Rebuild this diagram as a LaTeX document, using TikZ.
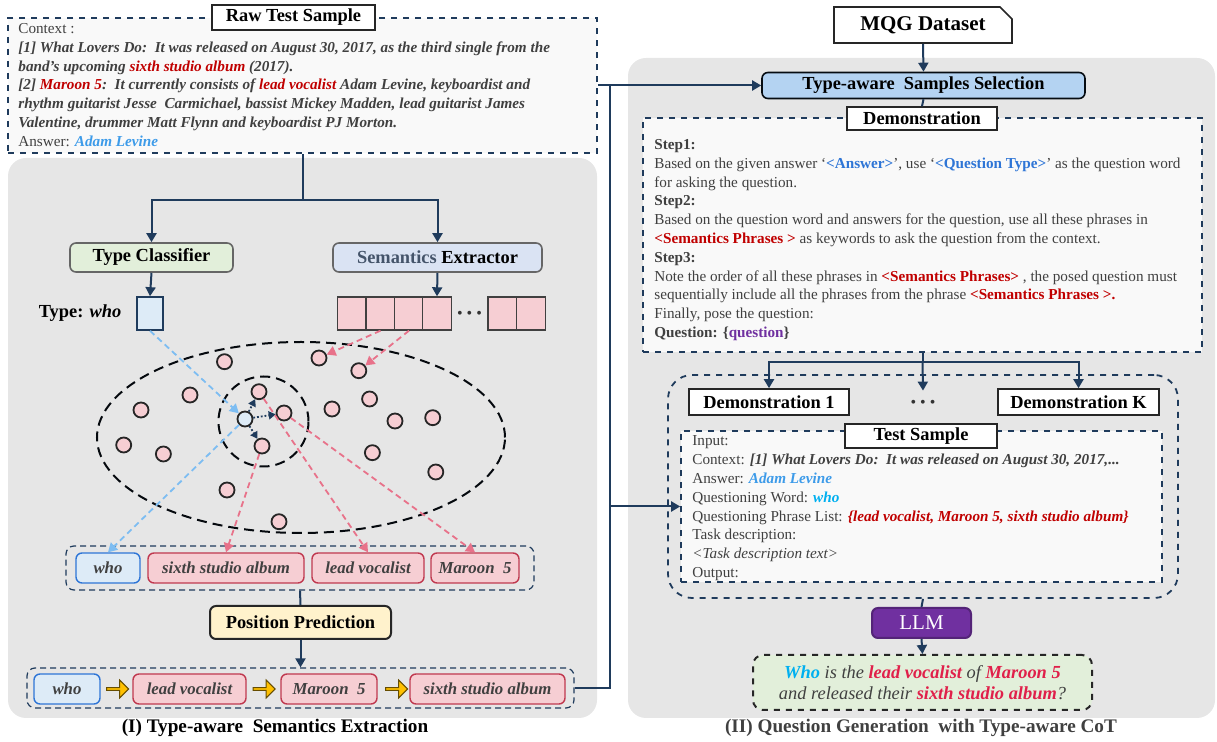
\documentclass[tikz,border=0pt]{standalone}
\usepackage{fontspec}
\setmainfont{Liberation Serif}
\usepackage{tikz}
\usetikzlibrary{positioning,arrows.meta,shapes.geometric,shapes.misc,shapes.arrows}

\definecolor{navy}{HTML}{1F3B5C}
\definecolor{panelgray}{HTML}{E6E6E6}
\definecolor{boxwhite}{HTML}{F9F9F9}
\definecolor{txtgray}{HTML}{404040}
\definecolor{redtxt}{HTML}{C00000}
\definecolor{ansblue}{HTML}{3D9BE9}
\definecolor{whocyan}{HTML}{00B0F0}
\definecolor{qpurple}{HTML}{7030A0}
\definecolor{greenfill}{HTML}{E2EFDA}
\definecolor{bluefill}{HTML}{DAE3F3}
\definecolor{lightblue}{HTML}{DDEBF7}
\definecolor{blueedge}{HTML}{2E75D6}
\definecolor{pinkfill}{HTML}{F6CED3}
\definecolor{pinkedge}{HTML}{C0394F}
\definecolor{pinkline}{HTML}{E8728A}
\definecolor{skyline}{HTML}{7DBDF2}
\definecolor{yellowfill}{HTML}{FFF2CC}
\definecolor{selfill}{HTML}{B4D3F2}
\definecolor{arrowyellow}{HTML}{FFC000}
\definecolor{crimson}{HTML}{E0204A}
\definecolor{semgray}{HTML}{44546A}
\definecolor{llmpurple}{HTML}{7030A0}

\newcommand\bodyfont{\fontsize{7.6}{9.4}\selectfont}
\newcommand\boxfont{\fontsize{9.2}{11}\selectfont\bfseries}
\newcommand\tagfont{\fontsize{8.4}{10}\selectfont\bfseries\itshape}
\newcommand\threedots{\textbullet\hspace{2pt}\textbullet\hspace{2pt}\textbullet}

\tikzset{
  arr/.style={-{Triangle[length=4.5pt,width=5pt]}, navy, line width=1pt},
  link/.style={navy, line width=1pt},
  title/.style={draw=black!85, fill=white, line width=0.8pt, font=\boxfont, inner sep=0pt},
  dashbox/.style={draw=navy, dashed, line width=0.8pt, fill=boxwhite, inner sep=0pt},
  group/.style={draw=navy, densely dashed, line width=0.6pt, rounded corners=4pt, inner sep=0pt},
  tagblue/.style={draw=blueedge, fill=lightblue, line width=0.7pt, rounded corners=3pt,
    minimum height=15pt, inner sep=0pt, font=\tagfont, text=txtgray},
  tagpink/.style={draw=pinkedge, fill=pinkfill, line width=0.7pt, rounded corners=3pt,
    minimum height=15pt, inner sep=0pt, font=\tagfont, text=txtgray},
  cell/.style={draw=black!75, fill=pinkfill, line width=0.7pt, minimum width=14.5pt,
    minimum height=16.5pt, inner sep=0pt},
  dot/.style={circle, draw=black!85, fill=pinkfill, line width=0.9pt, minimum size=7.5pt, inner sep=0pt},
  yarrow/.style={single arrow, draw=black!60!arrowyellow, fill=arrowyellow, line width=0.5pt,
    minimum height=11pt, minimum width=9pt, single arrow head extend=1.5pt, inner sep=0pt},
  pinkdash/.style={-{Triangle[length=4.5pt,width=5pt]}, pinkline, line width=0.9pt, dash pattern=on 3pt off 2pt},
  bluedash/.style={-{Triangle[length=4.5pt,width=5pt]}, skyline, line width=0.9pt, dash pattern=on 3pt off 2pt},
}

\begin{document}
\begin{tikzpicture}[x=0.5pt, y=-0.5pt]
  \useasboundingbox (0,0) rectangle (1217,742);

  % panels
  \fill[panelgray, rounded corners=9pt] (8,158) rectangle (597,718);
  \fill[panelgray, rounded corners=9pt] (628,58) rectangle (1215,718);

  % (I) raw sample
  \node[dashbox, minimum width=294.5pt, minimum height=67.5pt] (raw) at (302.5,85.5) {};
  \node[title, minimum width=81.5pt, minimum height=12.5pt] (rawtitle) at (293.5,17.5) {Raw Test Sample};
  \node[anchor=north west, align=left, inner sep=0pt, font=\bodyfont, text=txtgray] (rawtext) at (18,23)
    {Context :\\
     \textbf{\textit{[1] What Lovers Do:\ \ It was released on August 30, 2017, as the third single from the}}\\
     \textbf{\textit{band's upcoming \textcolor{redtxt}{sixth studio album} (2017).}}\\
     \textbf{\textit{[2] \textcolor{redtxt}{Maroon 5}:\ \ It currently consists of \textcolor{redtxt}{lead vocalist} Adam Levine, keyboardist and}}\\
     \textbf{\textit{rhythm guitarist Jesse\ \ Carmichael, bassist Mickey Madden, lead guitarist James}}\\
     \textbf{\textit{Valentine, drummer Matt Flynn and keyboardist PJ Morton.}}\\
     Answer: \textcolor{ansblue}{\textbf{\textit{Adam Levine}}}};

  \node[title, draw=black!60, fill=greenfill, rounded corners=3pt, minimum width=81.5pt, minimum height=14.5pt] (typecls) at (151.5,257.5) {Type Classifier};
  \node[title, draw=black!60, fill=bluefill, rounded corners=3pt, minimum width=104.5pt, minimum height=14.5pt] (semext) at (437.5,257.5) {\textcolor{semgray}{Semantics} Extractor};
  \coordinate (split) at (302.5,200);
  \draw[link] (raw.south) -- (split);
  \draw[arr] (split) -| (typecls.north);
  \draw[arr] (split) -| (semext.north);

  \node[draw=navy, fill=lightblue, line width=0.8pt, minimum width=13pt, minimum height=16.5pt, inner sep=0pt] (typebox) at (150,313.5) {};
  \node[font=\fontsize{9.2}{11}\selectfont, inner sep=0pt] (typelbl) at (80,313) {\textbf{Type:} \textbf{\textit{who}}};
  \draw[arr] (typecls.south) -- (typebox.north);

  \node[cell] (s1) at (352,313.5) {};
  \node[cell] (s2) at (380.5,313.5) {};
  \node[cell] (s3) at (409,313.5) {};
  \node[cell] (s4) at (437,313.5) {};
  \node[font=\fontsize{8}{9}\selectfont, text=black!80, inner sep=0pt] (sdots) at (469.5,315) {\threedots};
  \node[cell] (s5) at (502.5,313.5) {};
  \node[cell] (s6) at (531,313.5) {};
  \draw[arr] (semext.south) -- (s4.north);

  % semantic space
  \node[ellipse, draw=black!85!navy, line width=1pt, dash pattern=on 5pt off 3pt, minimum width=204pt, minimum height=95.5pt, inner sep=0pt] (space) at (301,437.5) {};
  \node[circle, draw=black!85!navy, line width=1pt, dash pattern=on 5pt off 3pt, minimum size=45pt, inner sep=0pt] (near) at (263.5,421.5) {};

  \foreach \x/\y in {224.5/361.7, 190/395, 141/410, 332/409, 369.6/399, 395/421, 432.7/417.7,
                     123.7/445, 163.4/454, 372.4/452.7, 435.8/472, 227/490, 279/521.7}
    \node[dot] at (\x,\y) {};
  \node[dot] (ca) at (319,358) {};
  \node[dot] (cb) at (358.8,370.7) {};
  \node[dot] (ct) at (259,391.7) {};
  \node[dot] (cr) at (284,413) {};
  \node[dot] (cd) at (262,446) {};
  \node[dot, fill=lightblue] (c0) at (245,419) {};

  \draw[pinkdash] (s2.south) -- (ca);
  \draw[pinkdash] (s3.south) -- (cb);
  \draw[bluedash] (typebox.south) -- (c0);
  \foreach \t in {ct,cr,cd}
    \draw[-{Triangle[length=3.5pt,width=4pt]}, navy, line width=0.9pt, densely dotted] (c0) -- (\t);

  % extracted phrases
  \node[group, minimum width=234pt, minimum height=22pt] (group1) at (300,568) {};
  \node[tagblue, minimum width=32pt] (who1) at (108,568) {who};
  \node[tagpink, minimum width=78pt] (sixth1) at (226,568) {sixth studio album};
  \node[tagpink, minimum width=56pt] (lead1) at (368,568) {lead vocalist};
  \node[tagpink, minimum width=44pt] (maroon1) at (475,568) {Maroon\ \ 5};

  \draw[bluedash] (c0) -- (who1.north);
  \draw[pinkdash] (cd) -- (sixth1.north);
  \draw[pinkdash] (ct) -- (lead1.north);
  \draw[pinkdash] (cr) -- (maroon1.north);

  \node[title, fill=yellowfill, rounded corners=3pt, line width=1pt, minimum width=90.5pt, minimum height=16.5pt] (posp) at (300.5,622.5) {Position Prediction};
  \draw[link] (group1.south) -- (posp.north);

  \node[group, minimum width=273.5pt, minimum height=20pt] (group2) at (300.5,688) {};
  \node[tagblue, minimum width=33pt] (who2) at (67,689) {who};
  \node[yarrow] (ya) at (117,689) {};
  \node[tagpink, minimum width=56.5pt] (lead2) at (189.5,689) {lead vocalist};
  \node[yarrow] (yb) at (263.5,689) {};
  \node[tagpink, minimum width=48pt] (maroon2) at (329,689) {Maroon\ \ 5};
  \node[yarrow] (yc) at (396,689) {};
  \node[tagpink, minimum width=77.5pt] (sixth2) at (487.5,689) {sixth studio album};
  \draw[arr] (posp.south) -- (group2.north);

  \node[font=\fontsize{9.6}{11}\selectfont\bfseries, inner sep=0pt] (cap1) at (275,728) {(I) Type-aware\ \ Semantics Extraction};

  % (II) question generation
  \node[title, chamfered rectangle, chamfered rectangle corners=north east, chamfered rectangle xsep=3pt,
        font=\fontsize{10.5}{12}\selectfont\bfseries, minimum width=89pt, minimum height=18pt] (mqg) at (923,25) {MQG Dataset};
  \node[title, fill=selfill, draw=black!80!navy, rounded corners=3pt, minimum width=161.5pt, minimum height=13pt] (sel) at (923.5,85.5) {Type-aware\ \ Samples Selection};
  \draw[arr] (mqg.south) -- (sel.north);
  \draw[arr] (raw.east) -- (sel.west);

  \node[dashbox, minimum width=279.5pt, minimum height=117pt] (demo) at (922.5,235) {};
  \node[title, minimum width=75pt, minimum height=11.5pt] (demotitle) at (922,118.5) {Demonstration};
  \draw[link] (sel.south) -- (demotitle.north);
  \node[anchor=north west, align=left, inner sep=0pt, font=\bodyfont, text=txtgray] (demotext) at (654,139)
    {\textbf{Step1:}\\
     Based on the given answer `\textcolor{blueedge}{\textbf{<Answer>}}', use `\textcolor{blueedge}{\textbf{<Question Type>}}' as the question word\\
     for asking the question.\\
     \textbf{Step2:}\\
     Based on the question word and answers\ for the question, use all these phrases\ in\\
     \textcolor{redtxt}{\textbf{<Semantics Phrases >}} as keywords\ to ask the question from the context.\\
     \textbf{Step3:}\\
     Note the order of all these phrases in \textcolor{redtxt}{\textbf{<Semantics Phrases>}} , the posed question must\\
     sequentially\ include all the phrases\ from the phrase \textcolor{redtxt}{\textbf{<Semantics Phrases >.}}\\
     Finally, pose the question:\\
     \textbf{Question: \{\textcolor{qpurple}{question}\}}};

  \node[draw=navy, dashed, line width=0.9pt, rounded corners=12pt, minimum width=255pt, minimum height=111.5pt, inner sep=0pt] (shots) at (923,486.5) {};
  \node[title, minimum width=80pt, minimum height=13pt] (demo1) at (769,402) {Demonstration 1};
  \node[font=\fontsize{8}{9}\selectfont, text=black!80, minimum height=13pt, inner sep=0pt] (kdots) at (923,404) {\threedots};
  \node[title, minimum width=80.5pt, minimum height=13pt] (demok) at (1078.5,402) {Demonstration K};
  \coordinate (split2) at (922.5,362);
  \draw[link] (demo.south) -- (split2);
  \draw[arr] (split2) -| (demo1.north);
  \draw[arr] (split2) -- (kdots.north);
  \draw[arr] (split2) -| (demok.north);

  \node[dashbox, minimum width=240.5pt, minimum height=75.5pt] (test) at (921.5,506.5) {};
  \node[anchor=north west, align=left, inner sep=0pt, font=\bodyfont, text=txtgray] (testtext) at (692,435.5)
    {Input:\\
     Context: \textbf{\textit{[1] What Lovers Do:\ \ It was released on August 30, 2017,...}}\\
     Answer: \textcolor{ansblue}{\textbf{\textit{Adam Levine}}}\\
     Questioning Word: \textcolor{whocyan}{\textbf{\textit{who}}}\\
     Questioning Phrase List: \textcolor{redtxt}{\textbf{\textit{\{lead vocalist, Maroon 5, sixth studio album\}}}}\\
     Task description:\\
     \textit{<Task description text>}\\
     Output:};
  \node[title, minimum width=76pt, minimum height=12pt] (testtitle) at (921,436) {Test Sample};
  \coordinate (branch) at (610,506.5);
  \draw[link] (group2.east) -| (branch);
  \draw[link] (branch) -- (610,85.5);
  \draw[arr] (branch) -- (test.west);

  \node[fill=llmpurple, draw=llmpurple!75!black, line width=1pt, rounded corners=3pt, text=white,
        font=\fontsize{10.5}{12}\selectfont, minimum width=49.5pt, minimum height=15pt, inner sep=0pt] (llm) at (921.5,623) {LLM};
  \draw[link] (shots.south) -- (llm.north);
  \node[draw=black!85, dashed, line width=1pt, fill=greenfill, rounded corners=5pt, minimum width=169.5pt,
        minimum height=27.5pt, inner sep=0pt, align=center, text=txtgray,
        font=\fontsize{9.2}{10.6}\selectfont\itshape] (qout) at (922.5,682.5)
    {\textcolor{whocyan}{\textbf{Who}} is the \textcolor{crimson}{\textbf{lead vocalist}} of \textcolor{crimson}{\textbf{Maroon 5}}\\
     and released their \textcolor{crimson}{\textbf{sixth studio album}}?};
  \draw[arr] (llm.south) -- (qout.north);

  \node[font=\fontsize{9.6}{11}\selectfont\bfseries, text=txtgray, inner sep=0pt] (cap2) at (921,728) {(II) Question Generation\ \ with Type-aware CoT};
\end{tikzpicture}
\end{document}
